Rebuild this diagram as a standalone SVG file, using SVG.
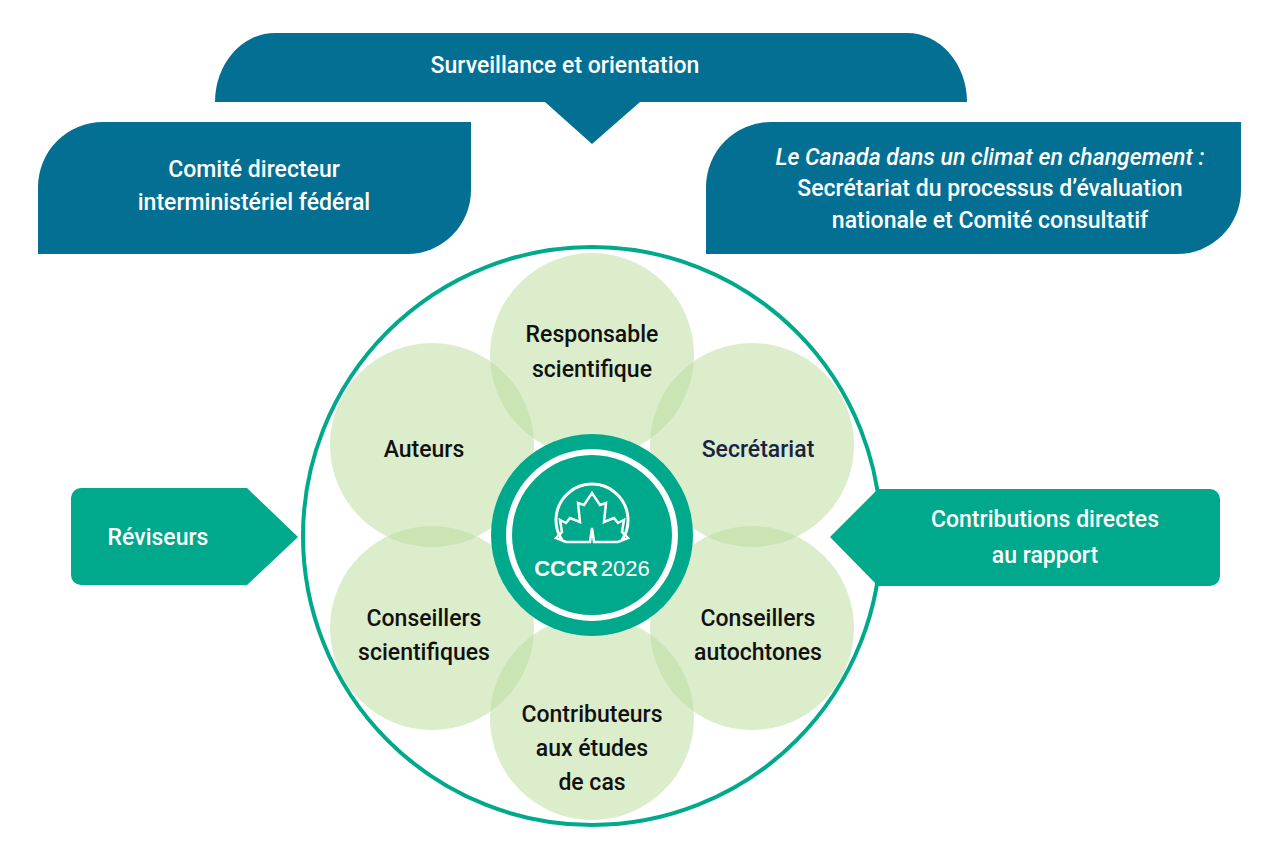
<svg xmlns="http://www.w3.org/2000/svg" width="1280" height="854" viewBox="0 0 1280 854">
<style>
.dk{fill:#036f93}.gr{fill:#00a88c}
.t{font-family:Roboto,"Liberation Sans",Arial,sans-serif;font-weight:500;font-size:23px;text-anchor:middle}
.w{fill:#fff}.b{fill:#111}
.pc{fill:#b9db9a;fill-opacity:0.5}
</style>
<rect width="1280" height="854" fill="#fff"/>
<g id="surveillance">
<path class="dk" d="M275 33 H907 A60 69 0 0 1 967 102 H640 L592 144 L545 102 H215 A60 69 0 0 1 275 33 Z"/>
<text class="t w" x="565" y="73">Surveillance et orientation</text>
</g>
<g id="comite">
<path class="dk" d="M103 122 H471 V190 A64 64 0 0 1 407 254 H38 V187 A65 65 0 0 1 103 122 Z"/>
<text class="t w" x="254" y="177">Comité directeur</text>
<text class="t w" x="254" y="210">interministériel fédéral</text>
</g>
<g id="secretariat-processus">
<path class="dk" d="M771 122 H1241 V190 A64 64 0 0 1 1177 254 H706 V187 A65 65 0 0 1 771 122 Z"/>
<text class="t w" x="990" y="165" font-style="italic">Le Canada dans un climat en changement :</text>
<text class="t w" x="990" y="196">Secrétariat du processus d’évaluation</text>
<text class="t w" x="990" y="228">nationale et Comité consultatif</text>
</g>
<g id="connectors"></g>
<g id="ring"><circle cx="592" cy="536" r="289" fill="#fff" stroke="#00a88c" stroke-width="4"/></g>
<g id="petals">
<circle class="pc" cx="592" cy="355" r="102"/>
<circle class="pc" cx="752" cy="445" r="102"/>
<circle class="pc" cx="752" cy="628" r="102"/>
<circle class="pc" cx="592" cy="718" r="102"/>
<circle class="pc" cx="432" cy="628" r="102"/>
<circle class="pc" cx="432" cy="445" r="102"/>
</g>
<g id="responsable"><text class="t b" x="592" y="342">Responsable</text><text class="t b" x="592" y="377">scientifique</text></g>
<g id="secretariat"><text class="t" fill="#1a2340" x="758" y="457">Secrétariat</text></g>
<g id="conseillers-autochtones"><text class="t b" x="758" y="626">Conseillers</text><text class="t b" x="758" y="660">autochtones</text></g>
<g id="contributeurs"><text class="t b" x="592" y="722">Contributeurs</text><text class="t b" x="592" y="756">aux études</text><text class="t b" x="592" y="790">de cas</text></g>
<g id="conseillers-scientifiques"><text class="t b" x="424" y="626">Conseillers</text><text class="t b" x="424" y="660">scientifiques</text></g>
<g id="auteurs"><text class="t b" x="424" y="457">Auteurs</text></g>
<g id="logo">
<circle cx="592" cy="535" r="101" class="gr"/>
<circle cx="592" cy="535" r="86" fill="#fff"/>
<circle cx="592" cy="535" r="80" class="gr"/>
<path d="M562 540 A36 36 0 1 1 622 540" fill="none" stroke="#fff" stroke-width="3"/>
<path d="M592 493 L584 505 L578 503 L580 522 L570 518 L566 523 L560 520 L562 532 L556 538 L566 542 L590 542 L592 528 L594 542 L618 542 L628 538 L622 532 L624 520 L618 523 L614 518 L604 522 L606 503 L600 505 Z" fill="none" stroke="#fff" stroke-width="2.5"/>
<text x="592" y="576" font-family="Liberation Sans,Arial,sans-serif" font-size="22" fill="#fff" text-anchor="middle"><tspan font-weight="bold">CCCR</tspan><tspan dx="3">2026</tspan></text>
</g>
<g id="reviseurs">
<path class="gr" d="M81 488 H247 L298 537 L247 585 H81 A10 10 0 0 1 71 575 V498 A10 10 0 0 1 81 488 Z"/>
<text class="t w" x="158" y="545">Réviseurs</text>
</g>
<g id="contributions">
<path class="gr" d="M878 489 H1210 A10 10 0 0 1 1220 499 V576 A10 10 0 0 1 1210 586 H878 L830 537 Z"/>
<text class="t w" x="1045" y="527">Contributions directes</text>
<text class="t w" x="1045" y="563">au rapport</text>
</g>
</svg>
